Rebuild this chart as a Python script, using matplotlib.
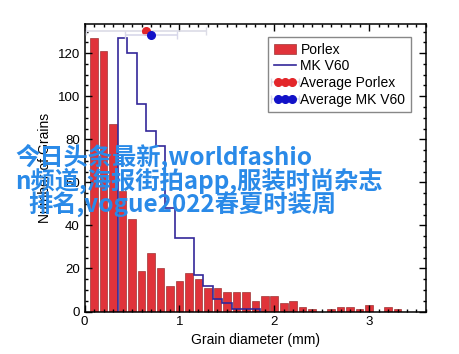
import numpy as np
import matplotlib
matplotlib.use("Agg")
import matplotlib.pyplot as plt
from matplotlib.ticker import MultipleLocator

plt.rcParams['font.family'] = ['Liberation Sans', 'DejaVu Sans']
plt.rcParams['font.size'] = 9

# Porlex histogram (bar centres in mm, counts)
porlex_x = [0.1, 0.2, 0.3, 0.4, 0.5, 0.6, 0.7, 0.8, 0.9, 1.0, 1.1, 1.2,
            1.3, 1.4, 1.5, 1.6, 1.7, 1.8, 1.9, 2.0, 2.1, 2.2, 2.3, 2.4,
            2.5, 2.6, 2.7, 2.8, 2.9, 3.0, 3.1, 3.2, 3.3]
porlex_n = [127, 121, 87, 56, 43, 19, 27, 20, 12, 14, 18, 15,
            11, 11, 9, 9, 9, 5, 7, 7, 4, 5, 2, 1,
            0, 1, 2, 2, 1, 3, 0, 2, 1]

# MK V60 histogram (bin edges in mm, counts)
mk_edges = [0.35, 0.45, 0.55, 0.65, 0.75, 0.85, 0.95, 1.05, 1.15, 1.25,
            1.35, 1.45, 1.55, 1.65, 1.75, 1.85]
mk_n = [127, 120, 96.5, 84, 77, 48, 34, 34, 17, 12, 6, 4, 1, 1, 1]

# averages with spread
avg_porlex = (0.646, 130.5, 0.63)
avg_mk = (0.70, 128.5, 0.27)

fig = plt.figure(figsize=(4.6, 3.54), dpi=100)
ax = fig.add_axes([0.184, 0.120, 0.742, 0.812])

h1 = ax.bar(porlex_x, porlex_n, width=0.08, color='#e0333a', edgecolor='#8a1c1c',
            linewidth=0.4, label='Porlex')
h2 = ax.stairs(mk_n, mk_edges, color='#33279a', linewidth=1.2, label='MK V60')

h3 = ax.errorbar(avg_porlex[0], avg_porlex[1], xerr=avg_porlex[2], fmt='o',
                 color='#e3262a', ms=5.5, ecolor='#dcdce6', elinewidth=1.2,
                 capsize=3, label='Average Porlex', zorder=5)
h4 = ax.errorbar(avg_mk[0], avg_mk[1], xerr=avg_mk[2], fmt='o',
                 color='#1212c8', ms=5.5, ecolor='#d8d8ea', elinewidth=1.2,
                 capsize=3, label='Average MK V60', zorder=6)

ax.set_xlim(0, 3.6)
ax.set_ylim(0, 133.5)
ax.xaxis.set_major_locator(MultipleLocator(1))
ax.xaxis.set_minor_locator(MultipleLocator(0.1))
ax.yaxis.set_major_locator(MultipleLocator(20))
ax.yaxis.set_minor_locator(MultipleLocator(5))
ax.tick_params(which='both', direction='in', top=True, right=True, width=1)
ax.tick_params(which='major', length=5, labelsize=9.5)
ax.tick_params(which='minor', length=2.5)
for s in ax.spines.values():
    s.set_linewidth(1.1)

ax.set_xlabel('Grain diameter (mm)', fontsize=10, labelpad=3)
ax.set_ylabel('Number of Grains', fontsize=10)

leg = ax.legend([h1, h2, h3, h4],
                ['Porlex', 'MK V60', 'Average Porlex', 'Average MK V60'],
                loc='upper right', numpoints=3, fancybox=False,
                edgecolor='#888888', framealpha=1, fontsize=10,
                bbox_to_anchor=(0.956, 0.955), borderaxespad=0,
                handlelength=1.6, handletextpad=0.3,
                labelspacing=0.2, borderpad=0.4)
leg.get_frame().set_linewidth(1.0)

# watermark overlay
wm = dict(color='#2a8ae8', fontsize=17.5, fontweight='bold',
          family=['Noto Sans CJK SC', 'DejaVu Sans'], va='center')
fig.text(15 / 460, 1 - 157 / 354, '今日头条最新,worldfashio', **wm)
fig.text(15 / 460, 1 - 181 / 354, 'n频道,海报街拍app,服装时尚杂志', **wm)
fig.text(28 / 460, 1 - 205 / 354, '排名,vogue2022春夏时装周', **wm)

fig.savefig('out.png', dpi=100)
